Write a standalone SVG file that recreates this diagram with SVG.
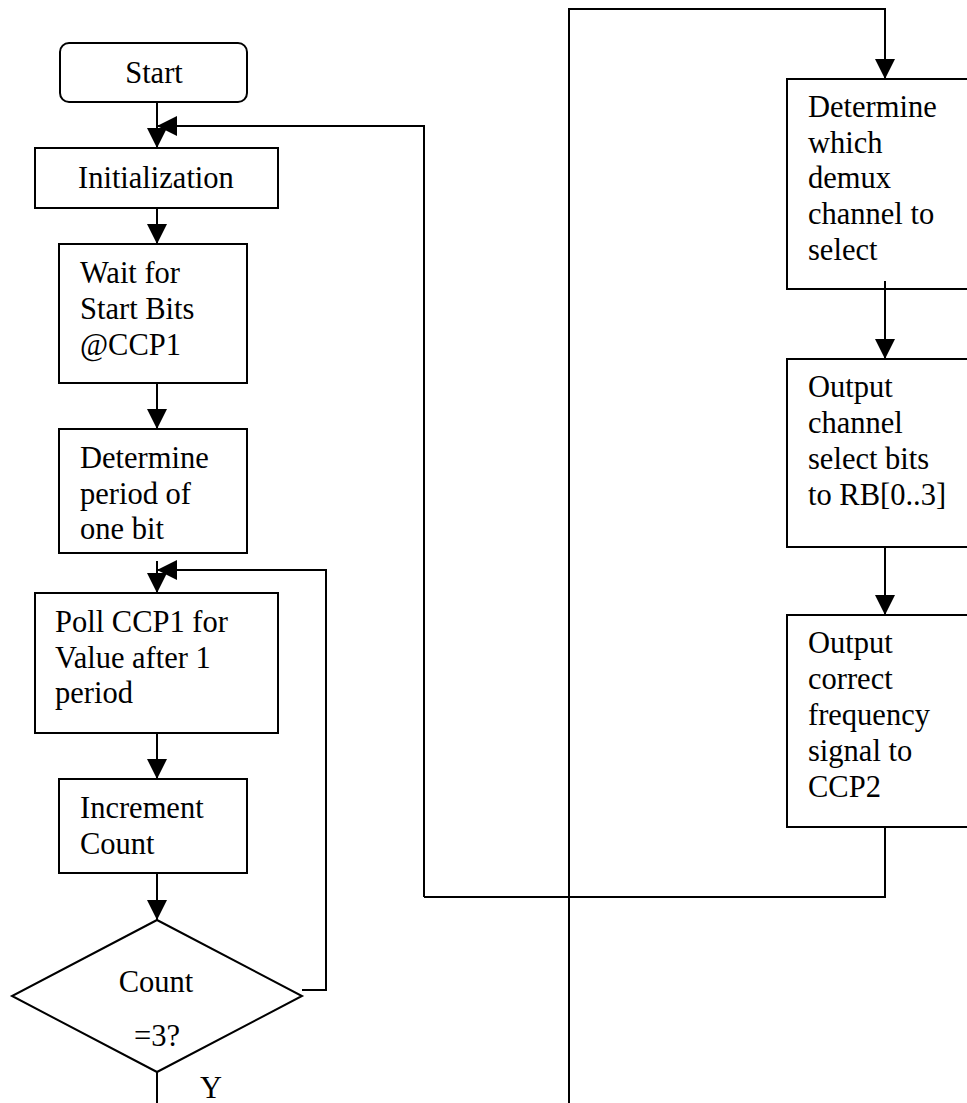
<svg xmlns="http://www.w3.org/2000/svg" width="967" height="1103" viewBox="0 0 967 1103">
<style>
.box{fill:#fff;stroke:#000;stroke-width:2}
.ln{fill:none;stroke:#000;stroke-width:2}
.arr{marker-end:url(#ah)}
text{font-family:"Liberation Serif","Times New Roman",serif;font-size:30.5px;fill:#000}
.c{text-anchor:middle}
</style>
<defs>
<marker id="ah" markerUnits="userSpaceOnUse" markerWidth="20" markerHeight="20" refX="20" refY="10" orient="auto">
<path d="M0,0 L20,10 L0,20 z" fill="#000"/>
</marker>
</defs>
<rect width="967" height="1103" fill="#fff"/>
<g id="connectors">
<path class="ln arr" d="M157,102 V148"/>
<path class="ln arr" d="M424,897 V126 H157"/>
<path class="ln arr" d="M157,208 V244"/>
<path class="ln arr" d="M157,383 V429"/>
<path class="ln arr" d="M157,561 V593"/>
<path class="ln arr" d="M302,990 H326 V570 H157"/>
<path class="ln arr" d="M157,733 V779"/>
<path class="ln arr" d="M157,873 V920"/>
<path class="ln" d="M157,1072 V1103"/>
<path class="ln arr" d="M569,1103 V9 H885 V79"/>
<path class="ln arr" d="M885,281 V359"/>
<path class="ln arr" d="M885,547 V615"/>
<path class="ln" d="M885,827 V897 H424"/>
</g>
<g id="start">
<rect class="box" x="60" y="43" width="187" height="59" rx="9"/>
<text class="c" x="154" y="83">Start</text>
</g>
<g id="init">
<rect class="box" x="35" y="148" width="243" height="60"/>
<text x="78" y="188">Initialization</text>
</g>
<g id="wait">
<rect class="box" x="59" y="244" width="188" height="139"/>
<text x="80" y="283">Wait for</text>
<text x="80" y="319">Start Bits</text>
<text x="80" y="355">@CCP1</text>
</g>
<g id="period">
<rect class="box" x="59" y="429" width="188" height="124"/>
<text x="80" y="468">Determine</text>
<text x="80" y="504">period of</text>
<text x="80" y="539">one bit</text>
</g>
<g id="poll">
<rect class="box" x="35" y="593" width="243" height="140"/>
<text x="55" y="632">Poll CCP1 for</text>
<text x="55" y="668">Value after 1</text>
<text x="55" y="703">period</text>
</g>
<g id="increment">
<rect class="box" x="59" y="779" width="188" height="94"/>
<text x="80" y="818">Increment</text>
<text x="80" y="854">Count</text>
</g>
<g id="decision">
<path class="box" d="M157,920 L302,996 L157,1072 L12,996 z"/>
<text class="c" x="156" y="992">Count</text>
<text class="c" x="157" y="1046">=3?</text>
<text class="c" x="211" y="1098">Y</text>
</g>
<g id="demux">
<rect class="box" x="787" y="79" width="200" height="210"/>
<text x="808" y="117">Determine</text>
<text x="808" y="153">which</text>
<text x="808" y="188">demux</text>
<text x="808" y="224">channel to</text>
<text x="808" y="260">select</text>
</g>
<g id="rb">
<rect class="box" x="787" y="359" width="200" height="188"/>
<text x="808" y="397">Output</text>
<text x="808" y="433">channel</text>
<text x="808" y="469">select bits</text>
<text x="808" y="505">to RB[0..3]</text>
</g>
<g id="ccp2">
<rect class="box" x="787" y="615" width="200" height="212"/>
<text x="808" y="653">Output</text>
<text x="808" y="689">correct</text>
<text x="808" y="725">frequency</text>
<text x="808" y="761">signal to</text>
<text x="808" y="797">CCP2</text>
</g>
<path class="ln" d="M885,281 V289"/>
</svg>
